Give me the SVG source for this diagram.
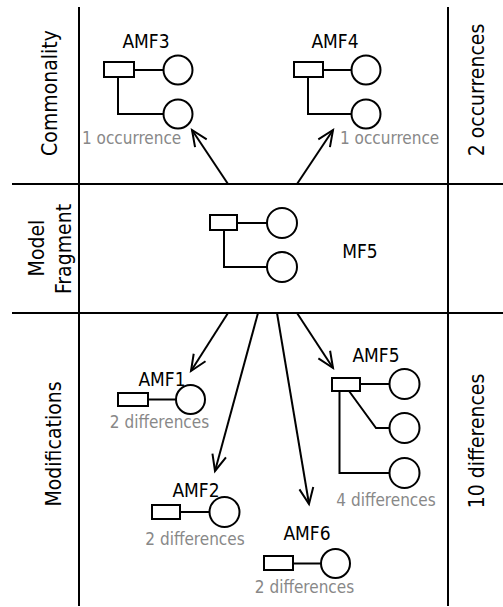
<svg xmlns="http://www.w3.org/2000/svg" width="503" height="607" viewBox="0 0 503 607">
<style>
.grid{stroke:#000;stroke-width:2;fill:none}
.shp{stroke:#000;stroke-width:2;fill:#fff}
.ln{stroke:#000;stroke-width:2;fill:none}
.lbl{font-family:"DejaVu Sans Condensed","DejaVu Sans",sans-serif;font-stretch:condensed;font-size:19px;fill:#000}
.gry{font-family:"DejaVu Sans Condensed","DejaVu Sans",sans-serif;font-stretch:condensed;font-size:17px;fill:#888}
.side{font-family:"DejaVu Sans Condensed","DejaVu Sans",sans-serif;font-stretch:condensed;font-size:21px;fill:#000;text-anchor:middle}
.arr{stroke:#000;stroke-width:2;fill:none;marker-end:url(#ah)}
</style>
<defs>
<marker id="ah" markerUnits="userSpaceOnUse" markerWidth="20" markerHeight="20" refX="0" refY="0" orient="auto" overflow="visible" viewBox="-20 -10 20 20">
<path d="M-16,-7 L0,0 L-16,7" fill="none" stroke="#000" stroke-width="2"/>
</marker>
</defs>
<rect width="503" height="607" fill="#fff"/>
<g id="grid">
<line class="grid" x1="79" y1="7" x2="79" y2="606"/>
<line class="grid" x1="448" y1="7" x2="448" y2="606"/>
<line class="grid" x1="12" y1="184" x2="503" y2="184"/>
<line class="grid" x1="12" y1="313" x2="503" y2="313"/>
</g>
<g id="side-labels">
<text class="side" transform="translate(57,93) rotate(-90)">Commonality</text>
<text class="side" transform="translate(44,248) rotate(-90)">Model</text>
<text class="side" transform="translate(71,249) rotate(-90)">Fragment</text>
<text class="side" transform="translate(61,444) rotate(-90)">Modifications</text>
<text class="side" transform="translate(484,90) rotate(-90)">2 occurrences</text>
<text class="side" transform="translate(484,441) rotate(-90)">10 differences</text>
</g>
<g id="AMF3">
<text class="lbl" x="146" y="48" text-anchor="middle">AMF3</text>
<rect class="shp" x="104" y="62" width="30" height="15"/>
<line class="ln" x1="134" y1="70" x2="163.5" y2="70"/>
<circle class="shp" cx="178" cy="70" r="14.5"/>
<path class="ln" d="M118,77 V114 H163.5"/>
<circle class="shp" cx="178" cy="114" r="14.5"/>
<text class="gry" x="82" y="144">1 occurrence</text>
</g>
<g id="AMF4">
<text class="lbl" x="335" y="48" text-anchor="middle">AMF4</text>
<rect class="shp" x="294" y="62" width="29" height="15"/>
<line class="ln" x1="323" y1="70" x2="351.5" y2="70"/>
<circle class="shp" cx="366" cy="70" r="14.5"/>
<path class="ln" d="M308,77 V114 H351.5"/>
<circle class="shp" cx="366" cy="114" r="14.5"/>
<text class="gry" x="340" y="144">1 occurrence</text>
</g>
<g id="MF5">
<rect class="shp" x="210" y="215" width="27" height="15"/>
<line class="ln" x1="237" y1="223" x2="267" y2="223"/>
<circle class="shp" cx="282" cy="223" r="15"/>
<path class="ln" d="M224,230 V267 H267"/>
<circle class="shp" cx="282" cy="267" r="15"/>
<text class="lbl" x="360" y="258" text-anchor="middle">MF5</text>
</g>
<g id="AMF1">
<text class="lbl" x="162" y="386" text-anchor="middle">AMF1</text>
<rect class="shp" x="118" y="393" width="30" height="13"/>
<line class="ln" x1="148" y1="399.5" x2="176" y2="399.5"/>
<circle class="shp" cx="190.5" cy="399.5" r="14.5"/>
<text class="gry" x="159.5" y="428" text-anchor="middle">2 differences</text>
</g>
<g id="AMF2">
<text class="lbl" x="196" y="497" text-anchor="middle">AMF2</text>
<rect class="shp" x="152" y="505" width="28" height="14"/>
<line class="ln" x1="180" y1="512" x2="209.5" y2="512"/>
<circle class="shp" cx="224.5" cy="512" r="15"/>
<text class="gry" x="195" y="545" text-anchor="middle">2 differences</text>
</g>
<g id="AMF5">
<text class="lbl" x="376" y="362" text-anchor="middle">AMF5</text>
<rect class="shp" x="332" y="378" width="28" height="13"/>
<line class="ln" x1="360" y1="384" x2="389.5" y2="384"/>
<circle class="shp" cx="404.5" cy="384" r="15"/>
<path class="ln" d="M349,391 L376,428 H389.5"/>
<circle class="shp" cx="404.5" cy="428" r="15"/>
<path class="ln" d="M339.5,391 V473 H389.5"/>
<circle class="shp" cx="404.5" cy="473" r="15"/>
<text class="gry" x="386" y="506" text-anchor="middle">4 differences</text>
</g>
<g id="AMF6">
<text class="lbl" x="307" y="540" text-anchor="middle">AMF6</text>
<rect class="shp" x="264" y="556" width="29" height="14"/>
<line class="ln" x1="293" y1="563.5" x2="321" y2="563.5"/>
<circle class="shp" cx="335.5" cy="563.5" r="14.5"/>
<text class="gry" x="304.5" y="593" text-anchor="middle">2 differences</text>
</g>
<g id="connectors">
<line class="arr" x1="228" y1="184" x2="192" y2="130"/>
<line class="arr" x1="297" y1="184" x2="333" y2="130"/>
<line class="arr" x1="228" y1="313" x2="191" y2="371"/>
<line class="arr" x1="258" y1="313" x2="215" y2="471"/>
<line class="arr" x1="277" y1="313" x2="309" y2="504"/>
<line class="arr" x1="297" y1="313" x2="333" y2="368"/>
</g>
</svg>
